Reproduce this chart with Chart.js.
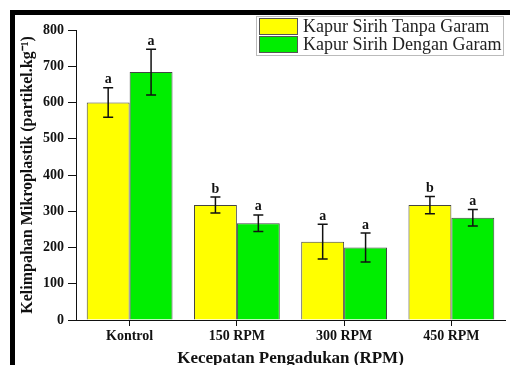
<!DOCTYPE html>
<html>
<head>
<meta charset="utf-8">
<script src="https://cdn.jsdelivr.net/npm/chart.js@4.4.0/dist/chart.umd.min.js"></script>
<style>
  html, body { margin: 0; padding: 0; background: #fff; }
  #wrap { width: 510px; height: 365px; }
</style>
</head>
<body>
<div id="wrap"><canvas id="myBarChart" width="510" height="365"></canvas></div>
<script>
// data
const categories = ["Kontrol", "150 RPM", "300 RPM", "450 RPM"];
const tanpaGaram = [600, 317, 216, 317];
const tanpaGaramErr = [41, 22, 48, 24];
const tanpaGaramLetter = ["a", "b", "a", "b"];
const denganGaram = [684, 267, 200, 282];
const denganGaramErr = [63, 23, 40, 23];
const denganGaramLetter = ["a", "a", "a", "a"];
const yTicks = [0, 100, 200, 300, 400, 500, 600, 700, 800];

const errors = [tanpaGaramErr, denganGaramErr];
const letters = [tanpaGaramLetter, denganGaramLetter];
const serif = "'Liberation Serif', 'Times New Roman', serif";

// error bars + significance letters
const errorBars = {
  id: "errorBars",
  afterDatasetsDraw(chart) {
    const ctx = chart.ctx;
    const y = chart.scales.y;
    ctx.save();
    ctx.strokeStyle = "#111";
    ctx.fillStyle = "#111";
    ctx.lineWidth = 1.5;
    ctx.font = "bold 14px " + serif;
    ctx.textAlign = "center";
    ctx.textBaseline = "bottom";
    chart.data.datasets.forEach((ds, i) => {
      const meta = chart.getDatasetMeta(i);
      meta.data.forEach((bar, j) => {
        const v = ds.data[j];
        const e = errors[i][j];
        const top = y.getPixelForValue(v + e);
        const bot = y.getPixelForValue(v - e);
        ctx.beginPath();
        ctx.moveTo(bar.x, top);
        ctx.lineTo(bar.x, bot);
        ctx.moveTo(bar.x - 5, top);
        ctx.lineTo(bar.x + 5, top);
        ctx.moveTo(bar.x - 5, bot);
        ctx.lineTo(bar.x + 5, bot);
        ctx.stroke();
        ctx.fillText(letters[i][j], bar.x, top - 1);
      });
    });
    ctx.restore();
  },
};

// frame lines and boxed legend
const frameLegend = {
  id: "frameLegend",
  afterDraw(chart) {
    const ctx = chart.ctx;
    ctx.save();
    ctx.fillStyle = "#000";
    ctx.fillRect(10, 10, 500, 5);
    ctx.fillRect(10, 10, 5, 355);

    ctx.strokeStyle = "#bbb";
    ctx.lineWidth = 1;
    ctx.fillStyle = "#fff";
    ctx.fillRect(256.5, 16.5, 247, 39);
    ctx.strokeRect(256.5, 16.5, 247, 39);

    ctx.font = "18px " + serif;
    ctx.textAlign = "left";
    ctx.textBaseline = "middle";
    chart.data.datasets.forEach((ds, i) => {
      const top = 18.5 + i * 18;
      ctx.fillStyle = ds.backgroundColor;
      ctx.fillRect(259.5, top, 38, 16);
      ctx.strokeStyle = "#555";
      ctx.strokeRect(259.5, top, 38, 16);
      ctx.fillStyle = "#222";
      ctx.fillText(ds.label, 303, top + 9);
    });
    ctx.restore();
  },
};

const barChart = document.getElementById("myBarChart").getContext("2d");
const dataBarChart = {
  labels: categories,
  datasets: [
    {
      label: "Kapur Sirih Tanpa Garam",
      data: tanpaGaram,
      backgroundColor: "#ffff00",
      borderColor: "#444",
      borderWidth: 1,
    },
    {
      label: "Kapur Sirih Dengan Garam",
      data: denganGaram,
      backgroundColor: "#00ee00",
      borderColor: "#444",
      borderWidth: 1,
    },
  ],
};

const myBarChart = new Chart(barChart, {
  type: "bar",
  data: dataBarChart,
  plugins: [errorBars, frameLegend],
  options: {
    responsive: false,
    animation: false,
    datasets: {
      bar: {
        categoryPercentage: 0.8,
        barPercentage: 1.0,
      },
    },
    layout: {
      padding: { top: 30, right: 5, left: 0, bottom: 0 },
    },
    scales: {
      y: {
        min: 0,
        max: 800,
        afterBuildTicks: (scale) => {
          scale.ticks = yTicks.map((v) => ({ value: v }));
        },
        afterFit: (scale) => {
          scale.width = 76;
        },
        ticks: {
          color: "#111",
          padding: 4,
          font: { family: serif, size: 14, weight: "bold" },
        },
        grid: {
          drawOnChartArea: false,
          tickLength: 8,
          tickColor: "#111",
        },
        border: { color: "#111", width: 1 },
        title: {
          display: true,
          text: "Kelimpahan Mikroplastik (partikel.kg⁻¹)",
          color: "#111",
          padding: { top: 18, bottom: 0 },
          font: { family: serif, size: 16, weight: "bold" },
        },
      },
      x: {
        offset: true,
        afterFit: (scale) => {
          scale.height = 45;
        },
        ticks: {
          color: "#111",
          padding: 2,
          font: { family: serif, size: 14, weight: "bold" },
        },
        grid: {
          offset: false,
          drawOnChartArea: false,
          tickLength: 6,
          tickColor: "#111",
        },
        border: { color: "#111", width: 1 },
        title: {
          display: true,
          text: "Kecepatan Pengadukan (RPM)",
          color: "#111",
          padding: { top: 0, bottom: 0 },
          font: { family: serif, size: 17, weight: "bold", lineHeight: 0.7 },
        },
      },
    },
    plugins: {
      legend: { display: false },
      tooltip: { enabled: false },
    },
  },
});
</script>
</body>
</html>
